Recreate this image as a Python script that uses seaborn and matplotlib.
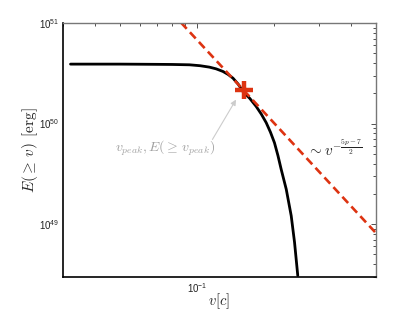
import numpy as np
import pandas as pd
import matplotlib
matplotlib.use("Agg")
import matplotlib.pyplot as plt
import seaborn as sns

# ---- data ----
v_curve = [0.0321, 0.040, 0.050, 0.060, 0.070, 0.080, 0.0936, 0.103, 0.112, 0.119, 0.1264,
           0.1325, 0.1384, 0.1450, 0.1514, 0.161, 0.1706, 0.1787, 0.1867, 0.194, 0.2011,
           0.2075, 0.2136, 0.2236, 0.2338, 0.2409, 0.2480]
E_curve = [3.90e50, 3.90e50, 3.90e50, 3.89e50, 3.88e50, 3.87e50, 3.84e50, 3.76e50, 3.64e50,
           3.50e50, 3.30e50, 3.08e50, 2.83e50, 2.47e50, 2.09e50, 1.78e50, 1.48e50, 1.24e50,
           1.02e50, 8.2e49, 6.44e49, 4.80e49, 3.51e49, 2.22e49, 1.21e49, 6.59e48, 3.08e48]

v_guide = [0.080, 0.50]
E_guide = [1.26e51, 8.2e48]

v_peak = [0.1527]
E_peak = [2.14e50]

# arrow from label to peak
v_arrow = [0.1151, 0.1423]
E_arrow = [6.95e49, 1.73e50]

xlim = (0.03, 0.5)
ylim = (3e48, 1e51)

sns.set_style("white")
plt.rcParams["font.family"] = ["Liberation Sans", "DejaVu Sans"]
plt.rcParams["mathtext.fontset"] = "cm"

fig = plt.figure(figsize=(4.15, 3.12), dpi=100)
ax = fig.add_axes([63 / 415, 1 - 276.7 / 312, (375.7 - 63) / 415, (276.7 - 23) / 312])

curve = pd.DataFrame({"v": v_curve, "E": E_curve})
guide = pd.DataFrame({"v": v_guide, "E": E_guide})
peak = pd.DataFrame({"v": v_peak, "E": E_peak})

red = "#dd3311"
sns.lineplot(data=curve, x="v", y="E", ax=ax, color="black", lw=2.0,
             sort=False, estimator=None)
sns.lineplot(data=guide, x="v", y="E", ax=ax, color=red, lw=1.9,
             sort=False, estimator=None, dashes=False, linestyle=(0, (3.2, 1.8)))
sns.scatterplot(data=peak, x="v", y="E", ax=ax, marker="+", s=180,
                color=red, linewidth=3.2, zorder=5)

ax.set_xscale("log")
ax.set_yscale("log")
ax.set_xlim(*xlim)
ax.set_ylim(*ylim)

ax.set_xlabel(r"$v[c]$", fontsize=10.5)
ax.xaxis.set_label_coords(0.5, -0.058)
ax.set_ylabel(r"$E(\geq\, v)\ \,[\mathrm{erg}]$", fontsize=11, labelpad=-1)

ax.tick_params(which="both", direction="in", top=True, right=True,
               labelsize=7, colors="#333333", width=0.6)
ax.tick_params(which="major", length=3.5, pad=3)
ax.tick_params(which="minor", length=2)
ax.tick_params(axis="both", labelcolor="#222222")

for side in ["left", "bottom"]:
    ax.spines[side].set_color("black")
    ax.spines[side].set_linewidth(1.2)
for side in ["top", "right"]:
    ax.spines[side].set_color("#777777")
    ax.spines[side].set_linewidth(1.0)

ax.text(0.166, 0.505, r"$v_{peak}, E(\geq\, v_{peak})$", transform=ax.transAxes,
        fontsize=10, color="#a0a0a0", ha="left", va="center")
ax.annotate("", xy=(v_arrow[1], E_arrow[1]), xycoords="data",
            xytext=(v_arrow[0], E_arrow[0]), textcoords="data",
            arrowprops=dict(arrowstyle="-|>", color="#cccccc", lw=0.8,
                            mutation_scale=8, shrinkA=0, shrinkB=0))

ax.text(0.78, 0.505, r"$\sim v^{-\frac{5p-7}{2}}$", transform=ax.transAxes,
        fontsize=11, color="#222222", ha="left", va="center")

fig.savefig("out.png", dpi=100, facecolor="white")
